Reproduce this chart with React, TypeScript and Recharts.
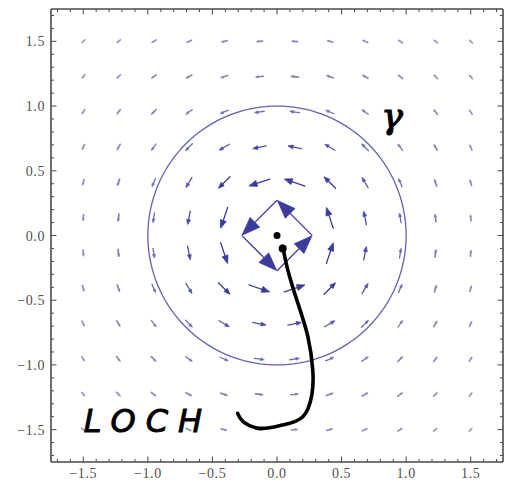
import React from 'react';
import { ScatterChart, Scatter, XAxis, YAxis, ReferenceLine, ReferenceDot } from 'recharts';

// grid sample positions of the vector plot (12 x 12)
const gridValues = [-1.5, -1.2273, -0.9545, -0.6818, -0.4091, -0.1364, 0.1364, 0.4091, 0.6818, 0.9545, 1.2273, 1.5];
const majorTicks = [-1.5, -1, -0.5, 0, 0.5, 1, 1.5];
const allTicks = [
  -1.7, -1.6, -1.5, -1.4, -1.3, -1.2, -1.1, -1.0, -0.9, -0.8, -0.7, -0.6, -0.5, -0.4, -0.3, -0.2, -0.1,
  0, 0.1, 0.2, 0.3, 0.4, 0.5, 0.6, 0.7, 0.8, 0.9, 1.0, 1.1, 1.2, 1.3, 1.4, 1.5, 1.6, 1.7,
];
const domain: [number, number] = [-1.75, 1.75];

// handwritten pointer curve ("LOCH" -> origin)
const lochCurve = [
  { x: 0.044, y: -0.083 },
  { x: 0.083, y: -0.264 },
  { x: 0.161, y: -0.521 },
  { x: 0.239, y: -0.782 },
  { x: 0.277, y: -1.041 },
  { x: 0.27, y: -1.23 },
  { x: 0.2, y: -1.4 },
  { x: 0.04, y: -1.465 },
  { x: -0.13, y: -1.49 },
  { x: -0.26, y: -1.44 },
  { x: -0.305, y: -1.375 },
];

const annotations = [
  { x: -1.0, y: -1.43, text: 'LOCH', size: 32, family: 'DejaVu Sans', style: 'oblique', spacing: 10, stroke: 0.9 },
  { x: 0.89, y: 0.93, text: 'γ', size: 36, family: 'DejaVu Serif', style: 'italic', spacing: 0, stroke: 1.2 },
];

const dots = [
  { x: 0, y: 0, r: 3.5 },
  { x: 0.044, y: -0.1, r: 4 },
];

// the vector field F = (-y, x) / (x^2 + y^2)
const ARROW_SCALE = 0.073;
type Arrow = { tail: { x: number; y: number }; head: { x: number; y: number } };
const arrows: Arrow[] = [];
for (const gx of gridValues) {
  for (const gy of gridValues) {
    const r2 = gx * gx + gy * gy;
    const u = (-gy / r2) * ARROW_SCALE;
    const v = (gx / r2) * ARROW_SCALE;
    arrows.push({ tail: { x: gx - u / 2, y: gy - v / 2 }, head: { x: gx + u / 2, y: gy + v / 2 } });
  }
}

// unit circle gamma
const gamma = Array.from({ length: 145 }, (_, i) => ({
  x: Math.cos((2 * Math.PI * i) / 144),
  y: Math.sin((2 * Math.PI * i) / 144),
}));

const ARROW_COLOR = '#3b3b9c';

const ArrowShape = (props: any) => {
  const { x1, y1, x2, y2 } = props;
  const dx = x2 - x1;
  const dy = y2 - y1;
  const L = Math.sqrt(dx * dx + dy * dy);
  if (!isFinite(L) || L === 0) return <g />;
  const ux = dx / L;
  const uy = dy / L;
  const nx = -uy;
  const ny = ux;
  const hl = L * 0.37;
  const hw = L * 0.14;
  const bx = x2 - ux * hl;
  const by = y2 - uy * hl;
  const op = Math.min(1, 0.3 + L / 22);
  const sw = L < 8 ? 1.7 : 1.3;
  return (
    <g opacity={op}>
      <line x1={x1} y1={y1} x2={bx} y2={by} stroke={ARROW_COLOR} strokeWidth={sw} strokeLinecap="round" />
      <polygon
        points={`${x2},${y2} ${bx + nx * hw},${by + ny * hw} ${bx - nx * hw},${by - ny * hw}`}
        fill={ARROW_COLOR}
        stroke={ARROW_COLOR}
        strokeWidth={0.8}
        strokeLinejoin="round"
      />
    </g>
  );
};

const isMajor = (v: number) => majorTicks.some((m) => Math.abs(m - v) < 1e-6);
const fmt = (v: number) => (v < 0 ? '\u2212' + Math.abs(v).toFixed(1) : v.toFixed(1));
const FRAME = '#4a4a4a';
const LABEL = '#505050';
const labelStyle = { fontFamily: "'Liberation Serif', 'DejaVu Serif', serif", fontSize: 14, letterSpacing: 0.6 };

const makeTick = (side: 'bottom' | 'top' | 'left' | 'right') => (props: any) => {
  const { x, y, payload } = props;
  const v = payload.value;
  const major = isMajor(v);
  const len = major ? 5.5 : 3;
  let line;
  let label = null;
  if (side === 'bottom') {
    line = <line x1={x} y1={y} x2={x} y2={y - len} stroke={FRAME} strokeWidth={1} />;
    if (major)
      label = (
        <text x={x} y={y + 16} textAnchor="middle" fill={LABEL} style={labelStyle}>
          {fmt(v)}
        </text>
      );
  } else if (side === 'top') {
    line = <line x1={x} y1={y} x2={x} y2={y + len} stroke={FRAME} strokeWidth={1} />;
  } else if (side === 'left') {
    line = <line x1={x} y1={y} x2={x + len} y2={y} stroke={FRAME} strokeWidth={1} />;
    if (major)
      label = (
        <text x={x - 6} y={y + 5} textAnchor="end" fill={LABEL} style={labelStyle}>
          {fmt(v)}
        </text>
      );
  } else {
    line = <line x1={x} y1={y} x2={x - len} y2={y} stroke={FRAME} strokeWidth={1} />;
  }
  return (
    <g>
      {line}
      {label}
    </g>
  );
};

const NoPoint = () => <g />;

export default function App() {
  return (
    <ScatterChart width={504} height={472} margin={{ top: 0, right: 8, bottom: 0, left: 0 }}>
      <XAxis
        xAxisId="b"
        dataKey="x"
        type="number"
        orientation="bottom"
        domain={domain}
        allowDataOverflow
        ticks={allTicks}
        interval={0}
        height={18}
        tickSize={0}
        tickMargin={0}
        tickLine={false}
        tick={makeTick('bottom')}
        axisLine={{ stroke: FRAME, strokeWidth: 1.6 }}
      />
      <XAxis
        xAxisId="t"
        dataKey="x"
        type="number"
        orientation="top"
        domain={domain}
        allowDataOverflow
        ticks={allTicks}
        interval={0}
        height={1}
        tickSize={0}
        tickMargin={0}
        tickLine={false}
        tick={makeTick('top')}
        axisLine={{ stroke: FRAME, strokeWidth: 1.6 }}
      />
      <YAxis
        yAxisId="l"
        dataKey="y"
        type="number"
        orientation="left"
        domain={domain}
        allowDataOverflow
        ticks={allTicks}
        interval={0}
        width={43}
        tickSize={0}
        tickMargin={0}
        tickLine={false}
        tick={makeTick('left')}
        axisLine={{ stroke: FRAME, strokeWidth: 1.6 }}
      />
      <YAxis
        yAxisId="r"
        dataKey="y"
        type="number"
        orientation="right"
        domain={domain}
        allowDataOverflow
        ticks={allTicks}
        interval={0}
        width={1}
        tickSize={0}
        tickMargin={0}
        tickLine={false}
        tick={makeTick('right')}
        axisLine={{ stroke: FRAME, strokeWidth: 1.6 }}
      />
      <Scatter
        xAxisId="b"
        yAxisId="l"
        data={gamma}
        line={{ stroke: '#6262b2', strokeWidth: 1.3 }}
        lineJointType="linear"
        shape={NoPoint}
        isAnimationActive={false}
        legendType="none"
      />
      {arrows.map((a, i) => (
        <ReferenceLine
          key={i}
          xAxisId="b"
          yAxisId="l"
          segment={[a.tail, a.head]}
          ifOverflow="visible"
          shape={ArrowShape}
        />
      ))}
      <Scatter
        xAxisId="b"
        yAxisId="l"
        data={lochCurve}
        line={{ stroke: '#000', strokeWidth: 3.6, strokeLinecap: 'round', fill: 'none' }}
        lineJointType="natural"
        shape={NoPoint}
        isAnimationActive={false}
        legendType="none"
      />
      {dots.map((d, i) => (
        <ReferenceDot key={'d' + i} xAxisId="b" yAxisId="l" x={d.x} y={d.y} r={d.r} fill="#000" stroke="none" ifOverflow="visible" />
      ))}
      {annotations.map((a, i) => (
        <ReferenceDot
          key={'a' + i}
          xAxisId="b"
          yAxisId="l"
          x={a.x}
          y={a.y}
          r={0}
          ifOverflow="visible"
          shape={(p: any) => (
            <text
              x={p.cx}
              y={p.cy}
              textAnchor="middle"
              dominantBaseline="central"
              fontFamily={a.family}
              fontStyle={a.style}
              fontSize={a.size}
              letterSpacing={a.spacing}
              fill="#000"
              stroke="#000"
              strokeWidth={a.stroke}
            >
              {a.text}
            </text>
          )}
        />
      ))}
    </ScatterChart>
  );
}
